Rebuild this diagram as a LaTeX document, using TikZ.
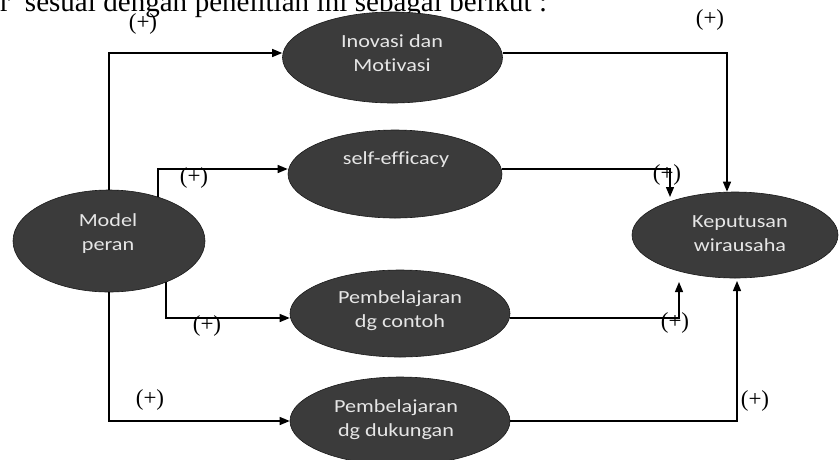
\documentclass[tikz,border=0pt]{standalone}
\usepackage{fontspec}
\setmainfont{Liberation Serif}
\newfontfamily\elfont[FakeStretch=1.2,Ligatures={NoCommon}]{Carlito}
\usetikzlibrary{arrows.meta,shapes.geometric}
\definecolor{ellfill}{HTML}{3B3B3B}
\definecolor{elltext}{HTML}{E6E6E6}
\begin{document}
\begin{tikzpicture}[x=1pt,y=-1pt,
  ell/.style={ellipse, fill=ellfill, draw=black!90, line width=0.6pt, inner sep=0pt},
  eltxt/.style={text=elltext, font=\elfont\fontsize{18.5}{24}\selectfont, align=center, inner sep=0pt},
  plus/.style={font=\fontsize{23}{23}\selectfont, inner sep=0pt},
  conn/.style={line width=1.3pt, -{Triangle[length=10pt,width=8pt]}}]
\useasboundingbox (0,0) rectangle (840,459);
\node[anchor=base west, inner sep=0pt, font=\fontsize{29}{32}\selectfont] (head) at (0,11) {\makebox[547pt][s]{r\ \ sesuai dengan penelitian ini sebagai berikut :}};
% ellipses
\node[ell, minimum width=220pt, minimum height=91pt] (inov) at (392.5,57.5) {};
\node[ell, minimum width=214pt, minimum height=88pt] (self) at (395,174) {};
\node[ell, minimum width=192pt, minimum height=102pt] (model) at (109,241) {};
\node[ell, minimum width=220pt, minimum height=87pt] (contoh) at (400,313.5) {};
\node[ell, minimum width=220pt, minimum height=88pt] (duk) at (400,421) {};
\node[ell, minimum width=206pt, minimum height=86pt] (kep) at (735,235) {};
% texts
\node[eltxt] (inovT) at (392,53.5) {Inovasi dan\\Motivasi};
\node[eltxt] (selfT) at (396,160) {self-efficacy};
\node[eltxt] (modelT) at (108,233.5) {Model\\peran};
\node[eltxt] (contohT) at (400,310.5) {Pembelajaran\\dg contoh};
\node[eltxt] (dukT) at (396,419.5) {Pembelajaran\\dg dukungan};
\node[eltxt] (kepT) at (740,233.5) {Keputusan\\wirausaha};
% end points
\coordinate (k1) at (670,197);
\coordinate (k2) at (679,282);
\coordinate (k3) at (737,281);
% connectors
\draw[conn] (model.north) |- ([yshift=4.5pt]inov.west);
\draw[conn] (model.42) |- ([yshift=5pt]self.west);
\draw[conn] (model.-36) |- ([yshift=-4.5pt]contoh.west);
\draw[conn] (model.south) |- (duk.west);
\draw[conn] ([yshift=4.5pt]inov.east) -| ([xshift=-8pt]kep.north);
\draw[conn] ([yshift=5pt]self.east) -| (k1);
\draw[conn] ([yshift=-4.5pt]contoh.east) -| (k2);
\draw[conn] (duk.east) -| (k3);
% labels
\node[plus] (p1) at (143,24) {(+)};
\node[plus] (p2) at (194,178) {(+)};
\node[plus] (p3) at (207,326) {(+)};
\node[plus] (p4) at (150,400) {(+)};
\node[plus] (p5) at (710,20) {(+)};
\node[plus] (p6) at (667,175) {(+)};
\node[plus] (p7) at (675,323) {(+)};
\node[plus] (p8) at (755,401) {(+)};
\end{tikzpicture}
\end{document}
